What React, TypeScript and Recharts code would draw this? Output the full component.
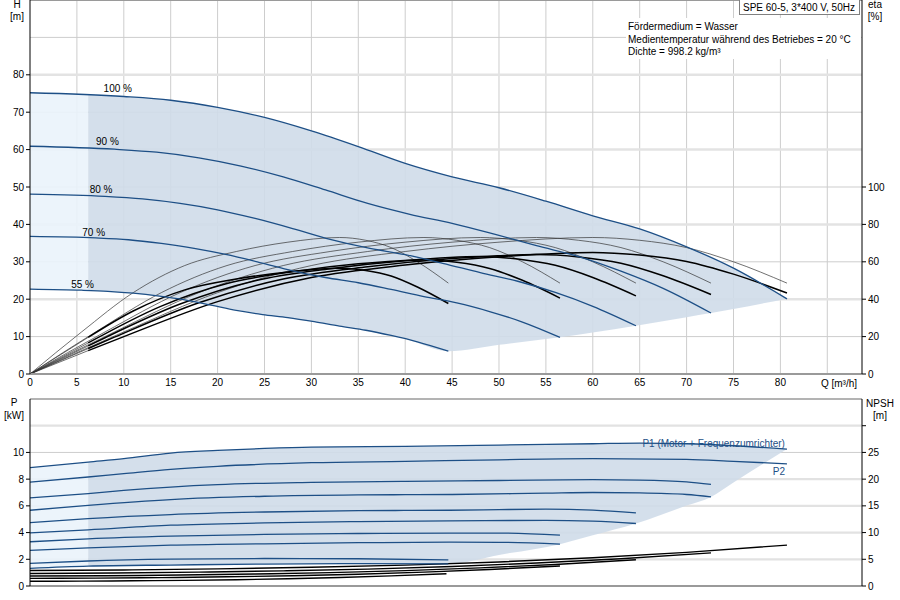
import React from 'react';
import { ComposedChart, Line, Area, XAxis, YAxis, CartesianGrid, ReferenceLine } from 'recharts';

// axis ticks
const qTicks = [0, 5, 10, 15, 20, 25, 30, 35, 40, 45, 50, 55, 60, 65, 70, 75, 80];
const qGrid = [5, 10, 15, 20, 25, 30, 35, 40, 45, 50, 55, 60, 65, 70, 75, 80, 85];
const hTicks = [0, 10, 20, 30, 40, 50, 60, 70, 80];
const etaTicks = [0, 20, 40, 60, 80, 100];
const pTicks = [0, 2, 4, 6, 8, 10];
const npshTicks = [0, 5, 10, 15, 20, 25, 30];

// H curves per speed
const q100 = [0, 10, 15, 20, 25, 30, 35, 40, 45, 50, 55, 60, 65, 70, 75, 80.7];
const h100 = [75.2, 74.2, 73.2, 71.3, 68.6, 65, 60.8, 56.3, 52.7, 49.8, 46.2, 42.3, 38.8, 34, 28.3, 20.1];
const q90 = [0, 9, 13.5, 18, 22.5, 27, 31.5, 36, 40.5, 45, 49.5, 54, 58.5, 63, 67.5, 72.6];
const h90 = [60.9, 60.1, 59.3, 57.8, 55.6, 52.7, 49.2, 45.6, 42.7, 40.3, 37.4, 34.3, 31.4, 27.5, 22.9, 16.3];
const q80 = [0, 8, 12, 16, 20, 24, 28, 32, 36, 40, 44, 48, 52, 56, 60, 64.6];
const h80 = [48.1, 47.5, 46.8, 45.6, 43.9, 41.6, 38.9, 36, 33.7, 31.9, 29.6, 27.1, 24.8, 21.8, 18.1, 12.9];
const q70 = [0, 7, 10.5, 14, 17.5, 21, 24.5, 28, 31.5, 35, 38.5, 42, 45.5, 49, 52.5, 56.5];
const h70 = [36.8, 36.4, 35.9, 34.9, 33.6, 31.9, 29.8, 27.6, 25.8, 24.4, 22.6, 20.7, 19, 16.7, 13.9, 9.8];
const q55 = [0, 5.5, 8.3, 11, 13.8, 16.5, 19.3, 22, 24.8, 27.5, 30.3, 33, 35.8, 38.5, 41.3, 44.6];
const h55 = [22.7, 22.4, 22.1, 21.6, 20.8, 19.8, 18.4, 17, 15.9, 15.1, 14, 12.8, 11.7, 10.3, 8.6, 6.1];
const speedLabels = ['100 %', '90 %', '80 %', '70 %', '55 %'];

// operating range in the H chart
const hEnvQ = [6.2, 10, 15, 20, 25, 30, 35, 40, 44.6, 50, 56.5, 60, 64.6, 70, 72.6, 75, 80.7];
const hEnvHigh = [74.6, 74.2, 73.2, 71.3, 68.6, 65, 60.8, 56.3, 53, 49.8, 45.2, 42.3, 39.1, 34, 31.4, 28.3, 20.1];
const hEnvLow = [22.3, 21.8, 20.3, 18.1, 15.8, 14.1, 12, 9.4, 6.1, 7.8, 9.8, 11.1, 12.9, 15.2, 16.3, 17.4, 20.1];
const hLightQ = [0, 6.2];
const hLightHigh = [75.2, 74.6];
const hLightLow = [22.7, 22.3];

// pump efficiency (thin), same shape for every speed
const etaPumpVals = [0, 22.5, 43.5, 58, 65.5, 70.5, 73, 71.5, 67.6, 60, 48.6];
const etaQ100 = [0, 10, 20, 30, 40, 50, 60, 65, 70, 75, 80.7];
const etaQ90 = [0, 9, 18, 27, 36, 45, 54, 58.5, 63, 67.5, 72.6];
const etaQ80 = [0, 8, 16, 24, 32, 40, 48, 52, 56, 60, 64.6];
const etaQ70 = [0, 7, 14, 21, 28, 35, 42, 45.5, 49, 52.5, 56.5];
const etaQ55 = [0, 5.5, 11, 16.5, 22, 27.5, 33, 35.8, 38.5, 41.3, 44.6];

// total efficiency (thick)
const etaTQ100 = [0, 6.2, 10, 20, 30, 40, 50, 60, 65, 70, 75, 80.7];
const etaT100 = [0, 12.5, 20, 38.7, 51.6, 58.3, 62.7, 65, 63.6, 60.2, 53.4, 43.3];
const etaTQ90 = [0, 6.2, 9, 18, 27, 36, 45, 54, 58.5, 63, 67.5, 72.6];
const etaT90 = [0, 13.6, 19.7, 38.1, 50.8, 57.3, 61.7, 63.9, 62.6, 59.2, 52.5, 42.5];
const etaTQ80 = [0, 6.2, 8, 16, 24, 32, 40, 48, 52, 56, 60, 64.6];
const etaT80 = [0, 15, 19.4, 37.4, 49.9, 56.3, 60.6, 62.8, 61.5, 58.1, 51.6, 41.8];
const etaTQ70 = [0, 6.2, 14, 21, 28, 35, 42, 45.5, 49, 52.5, 56.5];
const etaT70 = [0, 16.6, 36.3, 48.4, 54.7, 58.9, 61, 59.7, 56.4, 50.1, 40.6];
const etaTQ55 = [0, 6.2, 11, 16.5, 22, 27.5, 33, 35.8, 38.5, 41.3, 44.6];
const etaT55 = [0, 19.6, 33.7, 45, 50.8, 54.6, 56.6, 55.4, 52.4, 46.5, 37.7];

// power P1 / P2 per speed
const p1Q100 = [0, 6.2, 10, 15, 20, 25, 30, 40, 50, 60, 65, 70, 75, 80.7];
const p1V100 = [8.86, 9.28, 9.53, 9.95, 10.15, 10.3, 10.4, 10.45, 10.55, 10.65, 10.7, 10.65, 10.5, 10.25];
const p2Q100 = [0, 6.2, 10, 15, 20, 30, 40, 50, 60, 70, 75, 80.7];
const p2V100 = [7.78, 8.16, 8.41, 8.73, 8.96, 9.23, 9.33, 9.45, 9.53, 9.48, 9.33, 9.15];
const p1Q90 = [0, 6.2, 10, 15, 20, 30, 40, 50, 60, 65, 70, 72.6];
const p1V90 = [6.59, 6.92, 7.16, 7.41, 7.59, 7.76, 7.84, 7.9, 7.96, 7.93, 7.8, 7.61];
const p2Q90 = [0, 6.2, 15, 25, 35, 45, 55, 60, 65, 70, 72.6];
const p2V90 = [5.67, 6.04, 6.47, 6.72, 6.82, 6.85, 6.95, 7, 6.97, 6.85, 6.67];
const p1Q80 = [0, 6.2, 15, 25, 35, 44.7, 50, 55, 60, 64.6];
const p1V80 = [4.75, 5.05, 5.35, 5.54, 5.64, 5.67, 5.72, 5.75, 5.68, 5.47];
const p2Q80 = [0, 6.2, 15, 25, 35, 44.7, 55, 60, 64.6];
const p2V80 = [3.98, 4.2, 4.55, 4.72, 4.82, 4.87, 4.92, 4.85, 4.68];
const p1Q70 = [0, 6.2, 15, 25, 35, 44.7, 50, 56.5];
const p1V70 = [3.31, 3.53, 3.73, 3.86, 3.93, 3.96, 3.96, 3.81];
const p2Q70 = [0, 6.2, 15, 25, 35, 44.7, 50, 56.5];
const p2V70 = [2.66, 2.86, 3.06, 3.16, 3.24, 3.28, 3.27, 3.13];
const p1Q55 = [0, 6.2, 15, 25, 35, 44.6];
const p1V55 = [1.69, 1.87, 2.01, 2.06, 2.04, 1.96];
const p2Q55 = [0, 6.2, 15, 25, 35, 44.6];
const p2V55 = [1.32, 1.49, 1.57, 1.64, 1.68, 1.66];

// operating range in the P chart
const pEnvQ = [6.2, 10, 15, 20, 25, 30, 35, 40, 44.6, 50, 56.5, 60, 64.6, 70, 72.6, 75, 80.7];
const pEnvHigh = [9.28, 9.53, 9.95, 10.15, 10.3, 10.4, 10.42, 10.45, 10.47, 10.55, 10.62, 10.65, 10.69, 10.65, 10.6, 10.5, 10.25];
const pEnvLow = [1.49, 1.52, 1.57, 1.6, 1.64, 1.66, 1.68, 1.68, 1.66, 2.33, 3.13, 3.8, 4.68, 6.02, 6.67, 7.75, 10.25];
const pLightQ = [0, 6.2];
const pLightHigh = [8.86, 9.28];
const pLightLow = [1.32, 1.49];

// NPSH per speed
const npshQ100 = [0, 10, 20, 30, 40, 50, 60, 70, 80.7];
const npsh100 = [2.9, 3, 3.2, 3.5, 3.9, 4.5, 5.3, 6.3, 7.65];
const npshQ90 = [0, 9, 18, 27, 36, 45, 54, 63, 72.6];
const npsh90 = [2.35, 2.43, 2.6, 2.84, 3.16, 3.65, 4.3, 5.1, 6.2];
const npshQ80 = [0, 8, 16, 24, 32, 40, 48, 56, 64.6];
const npsh80 = [1.86, 1.92, 2.05, 2.24, 2.5, 2.88, 3.4, 4.03, 4.9];
const npshQ70 = [0, 7, 14, 21, 28, 35, 42, 49, 56.5];
const npsh70 = [1.42, 1.47, 1.57, 1.72, 1.91, 2.2, 2.6, 3.09, 3.75];
const npshQ55 = [0, 5.5, 11, 16.5, 22, 27.5, 33, 38.5, 44.4];
const npsh55 = [0.88, 0.91, 0.97, 1.06, 1.18, 1.36, 1.6, 1.9, 2.3];

const FONT = '"Liberation Sans", Arial, sans-serif';
const BLUE = '#1d4f86';
const DARK_FILL = '#cfdce9';
const LIGHT_FILL = '#eaf3fb';
const GRID = '#cdcdcd';

const pts = (qs: number[], vs: number[]) => qs.map((q, i) => ({ q, v: vs[i] }));
const band = (qs: number[], lo: number[], hi: number[]) => qs.map((q, i) => ({ q, r: [lo[i], hi[i]] }));

const hCurves = [pts(q100, h100), pts(q90, h90), pts(q80, h80), pts(q70, h70), pts(q55, h55)];
const labelOffsets = [[-6, -4], [-7, -4], [-4, -3], [-2, -2], [1, -2]];
const etaPump = [etaQ100, etaQ90, etaQ80, etaQ70, etaQ55].map((qs) => pts(qs, etaPumpVals));
const etaTotal = [pts(etaTQ100, etaT100), pts(etaTQ90, etaT90), pts(etaTQ80, etaT80), pts(etaTQ70, etaT70), pts(etaTQ55, etaT55)];
const pCurves = [
  pts(p1Q100, p1V100), pts(p2Q100, p2V100), pts(p1Q90, p1V90), pts(p2Q90, p2V90),
  pts(p1Q80, p1V80), pts(p2Q80, p2V80), pts(p1Q70, p1V70), pts(p2Q70, p2V70),
  pts(p1Q55, p1V55), pts(p2Q55, p2V55),
];
const npshCurves = [pts(npshQ100, npsh100), pts(npshQ90, npsh90), pts(npshQ80, npsh80), pts(npshQ70, npsh70), pts(npshQ55, npsh55)];

const tickStyle = { fill: '#000', fontSize: 10, fontFamily: FONT };

const textDot = (text: string, at: number, dx: number, dy: number, anchor: string, color: string) => (p: any) =>
  p.index === at ? (
    <text key={`t${p.index}`} x={p.cx + dx} y={p.cy + dy} textAnchor={anchor} fontSize={10} fontFamily={FONT} fill={color}>
      {text}
    </text>
  ) : (
    <g key={`t${p.index}`} />
  );

const Txt = ({ x, y, children, align = 'left', color = '#000' }: any) => (
  <div style={{
    position: 'absolute', top: y - 6, lineHeight: '12px', fontSize: 10, color, whiteSpace: 'nowrap',
    ...(align === 'center' ? { left: x, transform: 'translateX(-50%)' } : { left: x }),
  }}>{children}</div>
);

const App: React.FC = () => (
  <div style={{ position: 'absolute', left: 0, top: 0, width: 900, height: 600, background: '#fff', fontFamily: FONT, overflow: 'hidden' }}>
    <div style={{ position: 'absolute', left: 0, top: 0 }}>
      <ComposedChart width={900} height={395} margin={{ top: 0, right: 0, bottom: 0, left: 0 }}>
        <CartesianGrid stroke={GRID} horizontalValues={[10, 30, 50, 70, 90]} verticalValues={qGrid} />
        <CartesianGrid stroke="#e3e3e3" strokeWidth={2.5} vertical={false} horizontalValues={[20, 40, 60, 80]} />
        <XAxis type="number" dataKey="q" domain={[0, 88.7]} ticks={qTicks} interval={0} height={21}
          tick={tickStyle} tickLine={false} tickSize={3} axisLine={{ stroke: '#9a9a9a', strokeWidth: 2 }} allowDataOverflow />
        <YAxis domain={[0, 100]} ticks={hTicks} interval={0} width={30} tick={tickStyle} tickSize={4}
          tickLine={{ stroke: '#000' }} axisLine={{ stroke: '#000' }} allowDataOverflow />
        <YAxis yAxisId="eta" orientation="right" domain={[0, 200]} ticks={etaTicks} interval={0} width={38}
          tick={tickStyle} tickSize={4} tickLine={{ stroke: '#000' }} axisLine={{ stroke: '#000' }} allowDataOverflow />
        <ReferenceLine y={100} stroke="#9a9a9a" strokeWidth={2} />
        <Area data={band(hLightQ, hLightLow, hLightHigh)} dataKey="r" type="linear" stroke="none" fill={LIGHT_FILL} fillOpacity={0.9} isAnimationActive={false} />
        <Area data={band(hEnvQ, hEnvLow, hEnvHigh)} dataKey="r" type="monotone" stroke="none" fill={DARK_FILL} fillOpacity={0.9} isAnimationActive={false} />
        {etaPump.map((d, i) => (
          <Line key={`ep${i}`} yAxisId="eta" data={d} dataKey="v" type="monotone" stroke="#333" strokeWidth={0.7}
            dot={false} activeDot={false} isAnimationActive={false} />
        ))}
        {etaTotal.map((d, i) => (
          <Line key={`etl${i}`} yAxisId="eta" data={d.slice(0, 2)} dataKey="v" type="linear" stroke="#333" strokeWidth={0.7}
            dot={false} activeDot={false} isAnimationActive={false} />
        ))}
        {etaTotal.map((d, i) => (
          <Line key={`et${i}`} yAxisId="eta" data={d.slice(1)} dataKey="v" type="monotone" stroke="#000" strokeWidth={1.5}
            dot={false} activeDot={false} isAnimationActive={false} />
        ))}
        {hCurves.map((d, i) => (
          <Line key={`h${i}`} data={d} dataKey="v" type="monotone" stroke={BLUE} strokeWidth={1.3}
            dot={textDot(speedLabels[i], 1, labelOffsets[i][0], labelOffsets[i][1], 'middle', '#000')}
            activeDot={false} isAnimationActive={false} />
        ))}
      </ComposedChart>
    </div>

    <div style={{ position: 'absolute', left: 0, top: 395 }}>
      <ComposedChart width={900} height={205} margin={{ top: 4, right: 0, bottom: 0, left: 0 }}>
        <CartesianGrid stroke={GRID} horizontalValues={[10]} verticalValues={qGrid} />
        <CartesianGrid stroke="#e2e2e2" strokeWidth={2.2} vertical={false} horizontalValues={[2, 4, 6, 8, 12]} />
        <XAxis type="number" dataKey="q" domain={[0, 88.7]} ticks={qTicks} height={14} tick={false} tickLine={false}
          axisLine={{ stroke: '#9a9a9a', strokeWidth: 2 }} allowDataOverflow />
        <YAxis domain={[0, 14]} ticks={pTicks} interval={0} width={30} tick={tickStyle} tickSize={4}
          tickLine={{ stroke: '#000' }} axisLine={{ stroke: '#000' }} allowDataOverflow />
        <YAxis yAxisId="npsh" orientation="right" domain={[0, 35]} ticks={npshTicks} interval={0} width={38}
          tick={tickStyle} tickSize={4} tickLine={{ stroke: '#000' }} axisLine={{ stroke: '#000' }}
          tickFormatter={(v: number) => (v === 30 ? '' : String(v))} allowDataOverflow />
        <ReferenceLine y={14} stroke="#9a9a9a" strokeWidth={1.5} />
        <Area data={band(pLightQ, pLightLow, pLightHigh)} dataKey="r" type="linear" stroke="none" fill={LIGHT_FILL} fillOpacity={0.9} isAnimationActive={false} />
        <Area data={band(pEnvQ, pEnvLow, pEnvHigh)} dataKey="r" type="monotone" stroke="none" fill={DARK_FILL} fillOpacity={0.9} isAnimationActive={false} />
        {npshCurves.map((d, i) => (
          <Line key={`n${i}`} yAxisId="npsh" data={d} dataKey="v" type="monotone" stroke="#000" strokeWidth={1.4}
            dot={false} activeDot={false} isAnimationActive={false} />
        ))}
        {pCurves.map((d, i) => (
          <Line key={`p${i}`} data={d} dataKey="v" type="monotone" stroke={BLUE} strokeWidth={1.3}
            dot={i === 0
              ? textDot('P1 (Motor + Frequenzumrichter)', d.length - 1, -2, -2, 'end', BLUE)
              : i === 1 ? textDot('P2', d.length - 1, -2, 11, 'end', BLUE) : false}
            activeDot={false} isAnimationActive={false} />
        ))}
      </ComposedChart>
    </div>

    <Txt x={17} y={5} align="center">H</Txt>
    <Txt x={17} y={17} align="center">[m]</Txt>
    <Txt x={875} y={5} align="center">eta</Txt>
    <Txt x={875} y={17} align="center">[%]</Txt>
    <Txt x={14} y={403} align="center">P</Txt>
    <Txt x={14} y={416} align="center">[kW]</Txt>
    <Txt x={880} y={404} align="center">NPSH</Txt>
    <Txt x={880} y={416} align="center">[m]</Txt>
    <Txt x={839} y={384} align="center">Q [m³/h]</Txt>

    <div style={{ position: 'absolute', left: 626, top: 18, width: 235, height: 41, background: '#fff' }} />
    <Txt x={628} y={27}>Fördermedium = Wasser</Txt>
    <Txt x={628} y={40}>Medientemperatur während des Betriebes = 20 °C</Txt>
    <Txt x={628} y={52}>Dichte = 998.2 kg/m³</Txt>

    <div style={{
      position: 'absolute', left: 739, top: 0, width: 121, height: 15, background: '#fff',
      border: '1px solid #808080', borderTop: 'none', fontSize: 10, lineHeight: '15px', paddingLeft: 3, boxSizing: 'border-box',
      whiteSpace: 'nowrap',
    }}>SPE 60-5, 3*400 V, 50Hz</div>
  </div>
);

export default App;
